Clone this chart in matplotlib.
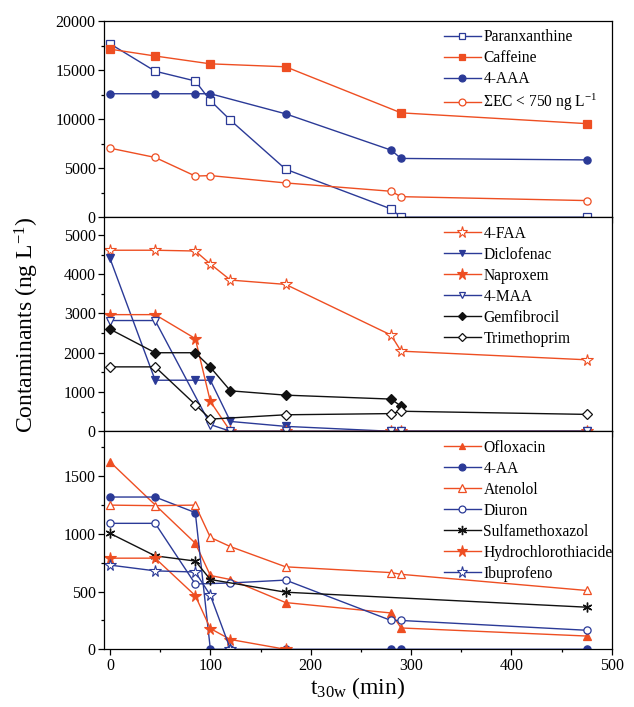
import matplotlib
matplotlib.use("Agg")
import matplotlib.pyplot as plt
from matplotlib.ticker import MultipleLocator

plt.rcParams["font.family"] = ["Liberation Serif", "DejaVu Serif"]
plt.rcParams["mathtext.fontset"] = "custom"
plt.rcParams["mathtext.rm"] = "Liberation Serif"
plt.rcParams["mathtext.it"] = "Liberation Serif:italic"

RED = "#EE4E22"
BLUE = "#2B3A97"
BLACK = "#111111"

# ── top panel ──
t_para = [0, 45, 85, 100, 120, 175, 280, 290, 475]
paranxanthine = [17700, 14900, 13900, 11900, 9900, 4900, 850, 0, 0]
t_caf = [0, 45, 100, 175, 290, 475]
caffeine = [17150, 16450, 15650, 15350, 10650, 9550]
t_aaa = [0, 45, 85, 100, 175, 280, 290, 475]
aaa4 = [12600, 12600, 12600, 12600, 10550, 6850, 6000, 5850]
t_sec = [0, 45, 85, 100, 175, 280, 290, 475]
sum_ec = [7050, 6100, 4200, 4250, 3500, 2650, 2100, 1700]

# ── middle panel ──
t_all = [0, 45, 85, 100, 120, 175, 280, 290, 475]
faa4 = [4610, 4610, 4590, 4260, 3850, 3740, 2450, 2040, 1820]
diclofenac = [4400, 1300, 1300, 1300, 250, 125, 0, 0, 0]
naproxem = [2970, 2970, 2360, 760, 0, 0, 0, 0, 0]
t_maa = [0, 45, 100, 120, 175, 280, 290, 475]
maa4 = [2820, 2820, 170, 0, 0, 0, 0, 0]
t_gem = [0, 45, 85, 100, 120, 175, 280, 290]
gemfibrocil = [2600, 2000, 2000, 1630, 1030, 920, 820, 640]
t_tri = [0, 45, 85, 100, 175, 280, 290, 475]
trimethoprim = [1640, 1640, 680, 310, 420, 450, 510, 430]

# ── bottom panel ──
t_oflo = [0, 85, 100, 120, 175, 280, 290, 475]
ofloxacin = [1625, 920, 640, 605, 405, 315, 185, 115]
aa4 = [1320, 1320, 1185, 0, 0, 0, 0, 0, 0]
atenolol = [1250, 1245, 1250, 970, 890, 715, 665, 650, 510]
t_diu = [0, 45, 85, 120, 175, 280, 290, 475]
diuron = [1092, 1092, 566, 575, 600, 250, 250, 165]
t_sulfa = [0, 45, 85, 100, 175, 475]
sulfamethoxazol = [1005, 810, 765, 605, 495, 365]
t_hct = [0, 45, 85, 100, 120, 175]
hydrochlorothiacide = [790, 790, 465, 180, 85, 0]
t_ibu = [0, 45, 85, 100, 120]
ibuprofeno = [730, 680, 670, 468, 0]

ASTER = (6, 2, 0)

fig = plt.figure(figsize=(6.34, 7.07), dpi=100)
gs = fig.add_gridspec(3, 1, height_ratios=[196, 214, 218], hspace=0,
                      left=0.164, right=0.965, top=0.970, bottom=0.0816)
axes = [fig.add_subplot(gs[i]) for i in range(3)]
ax1, ax2, ax3 = axes

ms = 5.2
kw = dict(lw=1.0, ms=ms, mew=0.9)
star = dict(lw=1.0, ms=8.5, mew=0.8)

ax1.plot(t_para, paranxanthine, "s-", color=BLUE, mfc="white", label="Paranxanthine", **kw)
ax1.plot(t_caf, caffeine, "s-", color=RED, label="Caffeine", **kw)
ax1.plot(t_aaa, aaa4, "o-", color=BLUE, label="4-AAA", **kw)
ax1.plot(t_sec, sum_ec, "o-", color=RED, mfc="white", label=r"ΣEC < 750 ng L$^{-1}$", **kw)

ax2.plot(t_all, faa4, "*-", color=RED, mfc="white", label="4-FAA", **star)
ax2.plot(t_all, diclofenac, "v-", color=BLUE, label="Diclofenac", **kw)
ax2.plot(t_all, naproxem, "*-", color=RED, label="Naproxem", **star)
ax2.plot(t_maa, maa4, "v-", color=BLUE, mfc="white", label="4-MAA", **kw)
ax2.plot(t_gem, gemfibrocil, "D-", color=BLACK, label="Gemfibrocil", lw=1.0, ms=4.7, mew=0.9)
ax2.plot(t_tri, trimethoprim, "D-", color=BLACK, mfc="white", label="Trimethoprim", lw=1.0, ms=4.7, mew=0.9)

ax3.plot(t_oflo, ofloxacin, "^-", color=RED, label="Ofloxacin", **kw)
ax3.plot(t_all, aa4, "o-", color=BLUE, label="4-AA", **kw)
ax3.plot(t_all, atenolol, "^-", color=RED, mfc="white", label="Atenolol", lw=1.0, ms=5.8, mew=0.9)
ax3.plot(t_diu, diuron, "o-", color=BLUE, mfc="white", label="Diuron", **kw)
ax3.plot(t_sulfa, sulfamethoxazol, marker=ASTER, ls="-", color=BLACK, label="Sulfamethoxazol", lw=1.0, ms=7, mew=1.0)
ax3.plot(t_hct, hydrochlorothiacide, "*-", color=RED, label="Hydrochlorothiacide", **star)
ax3.plot(t_ibu, ibuprofeno, "*-", color=BLUE, mfc="white", label="Ibuprofeno", **star)

ylims = [(0, 20000), (0, 5450), (0, 1890)]
majors = [5000, 1000, 500]
minors = [2500, 500, 250]
for ax, yl, mj, mn in zip(axes, ylims, majors, minors):
    ax.set_xlim(-6, 500)
    ax.set_ylim(*yl)
    ax.xaxis.set_major_locator(MultipleLocator(100))
    ax.xaxis.set_minor_locator(MultipleLocator(50))
    ax.yaxis.set_major_locator(MultipleLocator(mj))
    ax.yaxis.set_minor_locator(MultipleLocator(mn))
    ax.tick_params(which="both", direction="out", labelsize=11.5, width=0.9, pad=2)
    ax.tick_params(which="major", length=4)
    ax.tick_params(which="minor", length=2.5)
    for sp in ax.spines.values():
        sp.set_linewidth(0.9)
    ax.legend(loc="upper left", bbox_to_anchor=(0.663, 0.975), frameon=False,
              fontsize=11.2, handlelength=2.4, handletextpad=0.15,
              labelspacing=0.32, borderpad=0.2, borderaxespad=0, markerscale=0.95)

for ax in (ax1, ax2):
    ax.tick_params(axis="x", labelbottom=False)

ax3.set_xlabel(r"t$_{\mathrm{30w}}$ (min)", fontsize=17, labelpad=1)
fig.text(0.043, 0.54, r"Contaminants (ng L$^{-1}$)", rotation=90, fontsize=17,
         ha="center", va="center")

fig.savefig("out.png", dpi=100)
